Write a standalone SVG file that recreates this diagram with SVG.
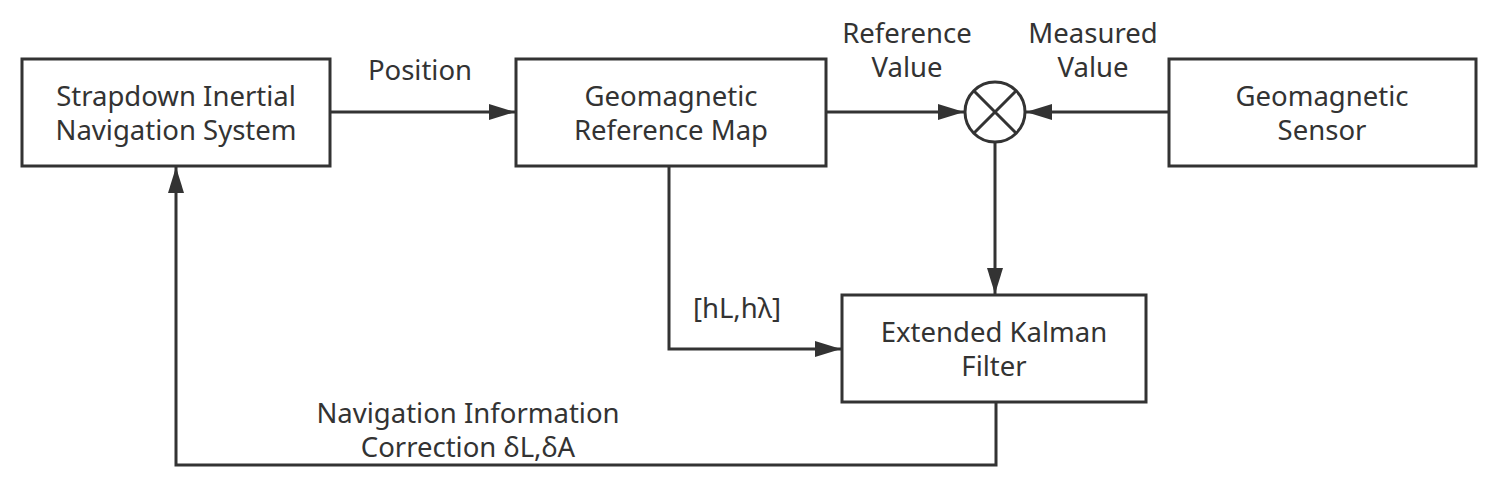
<svg xmlns="http://www.w3.org/2000/svg" width="1500" height="492" viewBox="0 0 1500 492">
<defs>
<marker id="arr" markerWidth="26" markerHeight="16" refX="26" refY="8" orient="auto" markerUnits="userSpaceOnUse" viewBox="0 0 26 16">
<path d="M0,0 L26,8 L0,16 z" fill="#333"/>
</marker>
<style>
.box{fill:#fff;stroke:#333;stroke-width:3}
.line{fill:none;stroke:#333;stroke-width:3}
text{font-family:"Noto Sans","Open Sans",sans-serif;font-size:27.5px;fill:#333;text-anchor:middle}
</style>
</defs>
<rect width="1500" height="492" fill="#fff"/>
<g id="connectors">
<path class="line" d="M330,112 H515" marker-end="url(#arr)"/>
<path class="line" d="M826,112 H964" marker-end="url(#arr)"/>
<path class="line" d="M1169,112 H1026" marker-end="url(#arr)"/>
<path class="line" d="M995,143 V294" marker-end="url(#arr)"/>
<path class="line" d="M669,166 V349 H841" marker-end="url(#arr)"/>
<path class="line" d="M996,402 V465 H176 V167" marker-end="url(#arr)"/>
</g>
<g id="sins">
<rect class="box" x="22" y="59" width="308" height="107"/>
<text x="176" y="106">Strapdown Inertial</text>
<text x="176" y="140">Navigation System</text>
</g>
<g id="refmap">
<rect class="box" x="516" y="59" width="310" height="107"/>
<text x="671" y="106">Geomagnetic</text>
<text x="671" y="140">Reference Map</text>
</g>
<g id="comparator">
<circle cx="995" cy="112" r="30" fill="#fff" stroke="#333" stroke-width="3"/>
<path class="line" d="M973.8,90.8 L1016.2,133.2 M1016.2,90.8 L973.8,133.2"/>
</g>
<g id="sensor">
<rect class="box" x="1169" y="59" width="307" height="107"/>
<text x="1322" y="106">Geomagnetic</text>
<text x="1322" y="140">Sensor</text>
</g>
<g id="ekf">
<rect class="box" x="842" y="295" width="304" height="107"/>
<text x="994" y="342">Extended Kalman</text>
<text x="994" y="376">Filter</text>
</g>
<g id="labels">
<text x="420" y="80">Position</text>
<text x="907" y="43">Reference</text>
<text x="907" y="77">Value</text>
<text x="1093" y="43">Measured</text>
<text x="1093" y="77">Value</text>
<text x="737" y="318">[hL,hλ]</text>
<text x="468" y="423">Navigation Information</text>
<text x="468" y="457">Correction δL,δA</text>
</g>
</svg>
